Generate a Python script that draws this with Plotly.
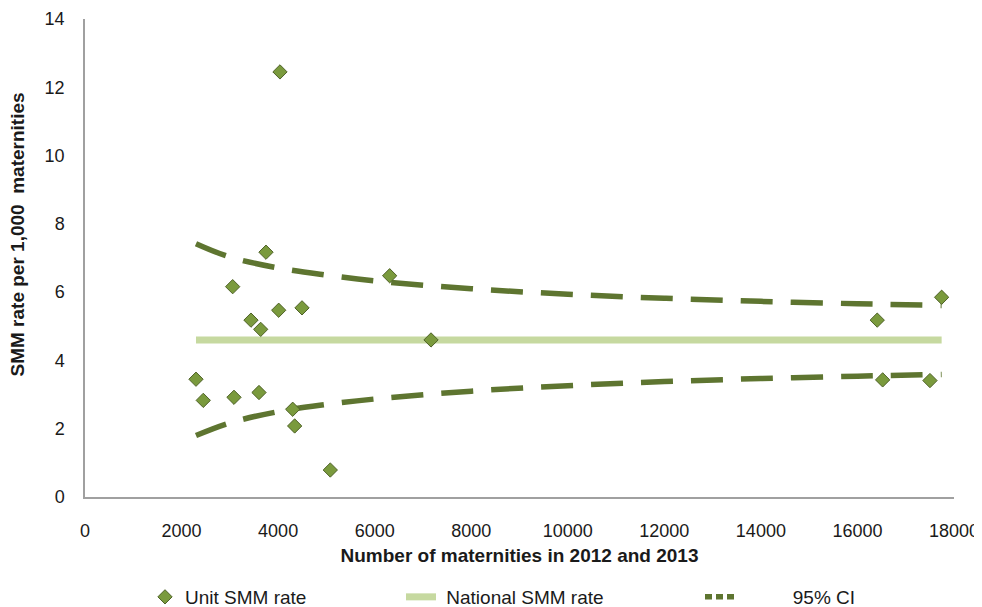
import plotly.graph_objects as go

# Unit SMM rates (number of maternities, rate per 1,000)
unit_maternities = [4039, 3749, 3059, 6311, 3438, 3639, 4012, 4495, 7167, 2299,
                    2450, 3086, 3604, 4302, 4343, 5081, 16410, 16522, 17502, 17744]
unit_rate = [12.45, 7.17, 6.16, 6.48, 5.18, 4.91, 5.47, 5.54, 4.60, 3.45,
             2.83, 2.92, 3.06, 2.57, 2.08, 0.79, 5.18, 3.43, 3.41, 5.85]

# National SMM rate
national_x = [2299, 17744]
national_rate = [4.60, 4.60]

# 95% CI funnel limits
ci_x = [2299, 3000, 4000, 5000, 6000, 8000, 10000, 12000, 14000, 16000, 17744]
ci_upper = [7.42, 7.03, 6.71, 6.50, 6.33, 6.10, 5.94, 5.82, 5.73, 5.66, 5.61]
ci_lower = [1.80, 2.17, 2.50, 2.71, 2.87, 3.10, 3.26, 3.38, 3.47, 3.54, 3.59]

x_ticks = list(range(0, 18001, 2000))
y_ticks = list(range(0, 15, 2))

FONT = "Liberation Sans, Arial, sans-serif"
DARK = "#5E7530"
W, H = 974, 599  # page body has an 8px margin

fig = go.Figure()

fig.add_trace(go.Scatter(
    x=national_x, y=national_rate, mode="lines", name="\u00a0National SMM rate",
    line=dict(color="#C6D9A0", width=7), legend="legend2"))

fig.add_trace(go.Scatter(
    x=ci_x, y=ci_upper, mode="lines", name="95% CI", showlegend=False,
    line=dict(color=DARK, width=5.5, dash="32px,18px", shape="spline")))
fig.add_trace(go.Scatter(
    x=ci_x, y=ci_lower, mode="lines", name="95% CI", showlegend=False,
    line=dict(color=DARK, width=5.5, dash="32px,18px", shape="spline")))
# legend entry for CI
fig.add_trace(go.Scatter(
    x=[None], y=[None], mode="lines", name="\u00a0" * 10 + "95% CI",
    line=dict(color=DARK, width=5.5, dash="7px,4px"), legend="legend3"))

fig.add_trace(go.Scatter(
    x=unit_maternities, y=unit_rate, mode="markers", name="Unit SMM rate",
    marker=dict(symbol="diamond", size=11, color="#7A9A3D",
                line=dict(color="#4F6228", width=1)),
    legend="legend"))

leg_common = dict(orientation="h", xref="container", yref="container",
                  yanchor="middle", y=(H - 589) / H, xanchor="left",
                  font=dict(family=FONT, size=19, color="#1a1a1a"),
                  bgcolor="rgba(0,0,0,0)")

fig.update_layout(
    width=W, height=H,
    margin=dict(l=77, r=28, t=11, b=110, autoexpand=False),
    plot_bgcolor="white", paper_bgcolor="white",
    font=dict(family=FONT, size=18, color="#1a1a1a"),
    legend=dict(x=137 / W, **leg_common),
    legend2=dict(x=393 / W, **leg_common),
    legend3=dict(x=692 / W, **leg_common),
    xaxis=dict(range=[0, 18000], tickvals=x_ticks, ticktext=[str(v) for v in x_ticks],
               showgrid=False, zeroline=False, showline=True, linecolor="#A0A0A0",
               linewidth=1.5, ticks="outside", ticklen=17, tickcolor="rgba(0,0,0,0)",
               automargin=False,
               tickfont=dict(family=FONT, size=18, color="#1a1a1a"),
               title=dict(text="<b>Number of maternities in 2012 and 2013</b>",
                          font=dict(family=FONT, size=19, color="#1a1a1a"), standoff=8)),
    yaxis=dict(range=[0, 14], tickvals=y_ticks, ticktext=[str(v) for v in y_ticks],
               showgrid=False, zeroline=False, showline=True, linecolor="#A0A0A0",
               linewidth=1.5, ticks="outside", ticklen=15, tickcolor="rgba(0,0,0,0)",
               automargin=False,
               tickfont=dict(family=FONT, size=18, color="#1a1a1a")),
    annotations=[dict(text="<b>SMM rate per 1,000  maternities</b>", textangle=-90,
                      xref="paper", yref="paper", x=-85 / 869 + 17.5 / 869, xanchor="center",
                      y=(497 - 235) / 478, yanchor="middle", showarrow=False,
                      font=dict(family=FONT, size=19, color="#1a1a1a"))],
)

fig.write_html("out.html")
